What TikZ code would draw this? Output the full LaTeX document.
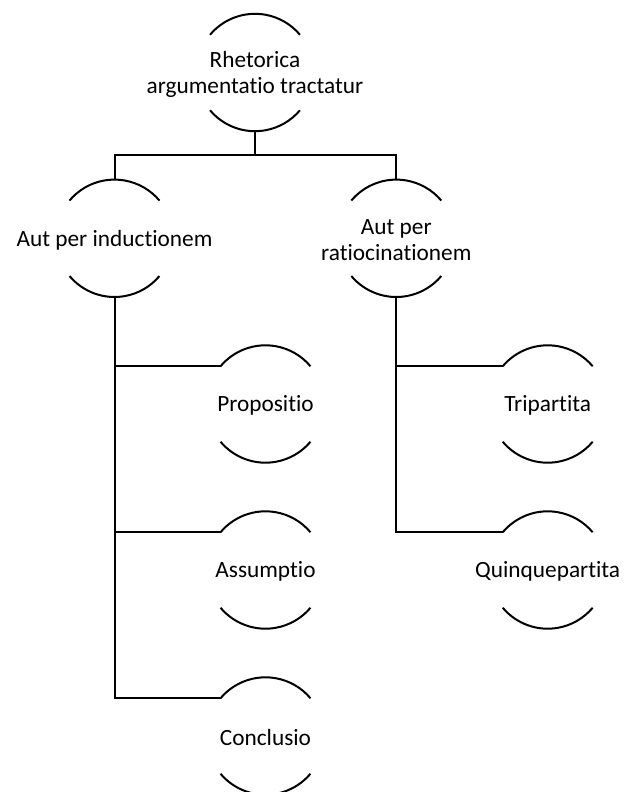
\documentclass[tikz,border=0pt]{standalone}
\usepackage{fontspec}
\setmainfont{Carlito}[Ligatures=NoCommon]
\begin{document}
\begin{tikzpicture}[x=1pt,y=1pt,
  lbl/.style={align=center,inner sep=0pt,font=\fontsize{23.3}{26}\selectfont,yshift=-1.5pt},
  arcline/.style={line width=2pt},
  conn/.style={line width=2pt}]
\useasboundingbox (0,0) rectangle (624,-792);
\def\R{58.7}
\node[lbl] (r) at (255,-72.5) {Rhetorica\\argumentatio tractatur};
\node[lbl] (a) at (114.5,-238.3) {Aut per inductionem};
\node[lbl] (b) at (396.3,-238.3) {Aut per\\ratiocinationem};
\node[lbl] (p) at (265.5,-404) {Propositio};
\node[lbl] (s) at (265.5,-570) {Assumptio};
\node[lbl] (c) at (265.5,-736) {Conclusio};
\node[lbl] (t) at (547.7,-404) {Tripartita};
\node[lbl] (q) at (547.7,-570) {Quinquepartita};
% arcs
\foreach \n/\cx/\cy in {r/255/-72.5,a/114.5/-238.3,b/396.3/-238.3,p/265.5/-404,s/265.5/-570,c/265.5/-736,t/547.7/-404,q/547.7/-570}{
  \draw[arcline] (\cx,\cy) ++(140:\R) arc[start angle=140,end angle=40,radius=\R];
  \draw[arcline] (\cx,\cy) ++(220:\R) arc[start angle=220,end angle=320,radius=\R];
  \coordinate (\n T) at (\cx,\cy+\R);
  \coordinate (\n B) at (\cx,\cy-\R);
  \coordinate (\n L) at ([shift={(140:\R)}]\cx,\cy);
}
\coordinate (bar) at (255,-155);
% root to level 2
\draw[conn] (rB) -- (bar);
\draw[conn] (aT) |- (bar) -| (bT);
% left children
\draw[conn] (aB) |- (cL);
\draw[conn] (aB |- pL) -- (pL);
\draw[conn] (aB |- sL) -- (sL);
% right children
\draw[conn] (bB) |- (qL);
\draw[conn] (bB |- tL) -- (tL);
\end{tikzpicture}
\end{document}
